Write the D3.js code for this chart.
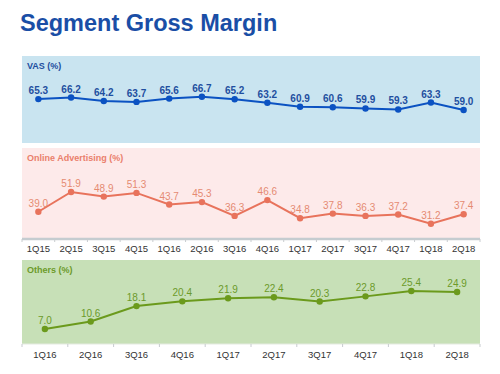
<!DOCTYPE html>
<html>
<head>
<meta charset="utf-8">
<script src="https://cdn.jsdelivr.net/npm/d3@7"></script>
<style>
  body { margin: 0; background: #fff; }
  svg { display: block; font-family: "Liberation Sans", Arial, sans-serif; }
</style>
</head>
<body>
<script>
// data
var quartersAll = ["1Q15","2Q15","3Q15","4Q15","1Q16","2Q16","3Q16","4Q16","1Q17","2Q17","3Q17","4Q17","1Q18","2Q18"];
var quartersOthers = ["1Q16","2Q16","3Q16","4Q16","1Q17","2Q17","3Q17","4Q17","1Q18","2Q18"];
var vasValues = [65.3, 66.2, 64.2, 63.7, 65.6, 66.7, 65.2, 63.2, 60.9, 60.6, 59.9, 59.3, 63.3, 59.0];
var adValues = [39.0, 51.9, 48.9, 51.3, 43.7, 45.3, 36.3, 46.6, 34.8, 37.8, 36.3, 37.2, 31.2, 37.4];
var othersValues = [7.0, 10.6, 18.1, 20.4, 21.9, 22.4, 20.3, 22.8, 25.4, 24.9];

var svg = d3.select("body").append("svg")
  .attr("width", 500)
  .attr("height", 374);

svg.append("text")
  .attr("x", 20).attr("y", 31)
  .style("font-size", "23.5px").style("font-weight", "bold")
  .style("fill", "#1a4ea6")
  .text("Segment Gross Margin");

var left = 22, right = 480;

// one panel = background, label, line, dots, value labels, optional axis
function drawPanel(opt){
  var g = svg.append("g");
  g.append("rect")
    .attr("x", left).attr("y", opt.top)
    .attr("width", right - left).attr("height", opt.bottom - opt.top)
    .style("fill", opt.bg);
  g.append("text")
    .attr("x", left + 5).attr("y", opt.top + 13)
    .style("font-size", "9px").style("font-weight", "bold")
    .style("fill", opt.titleColor)
    .text(opt.title);

  var x = d3.scalePoint().domain(opt.cats).range([left, right]).padding(0.5);
  var y = d3.scaleLinear().domain(opt.domain).range(opt.yRange);

  var pts = opt.values.map(function(v, i){ return {c: opt.cats[i], v: v}; });

  g.append("path").datum(pts)
    .attr("d", d3.line().x(function(d){ return x(d.c); }).y(function(d){ return y(d.v); }))
    .style("fill", "none").style("stroke", opt.color).style("stroke-width", 2);

  g.selectAll("circle").data(pts).enter().append("circle")
    .attr("cx", function(d){ return x(d.c); })
    .attr("cy", function(d){ return y(d.v); })
    .attr("r", 3.2)
    .style("fill", opt.color);

  g.selectAll("text.val").data(pts).enter().append("text")
    .attr("class", "val")
    .attr("x", function(d){ return x(d.c); })
    .attr("y", function(d){ return y(d.v) - 5; })
    .attr("text-anchor", "middle")
    .style("font-size", "10px")
    .style("font-weight", opt.labelWeight)
    .style("fill", opt.labelColor)
    .text(function(d){ return d.v.toFixed(1); });

  if(opt.axis){
    var band = x.step();
    var ax = svg.append("g").attr("transform", "translate(0," + opt.bottom + ")");
    ax.append("line")
      .attr("x1", left).attr("x2", right)
      .style("stroke", opt.axisColor).style("stroke-width", opt.axisWidth);
    ax.selectAll("line.tk").data(d3.range(opt.cats.length + 1)).enter().append("line")
      .attr("class", "tk")
      .attr("x1", function(i){ return left + i * band; })
      .attr("x2", function(i){ return left + i * band; })
      .attr("y1", 0).attr("y2", 3)
      .style("stroke", "#c8cccf").style("stroke-width", 1);
    ax.selectAll("text").data(opt.cats).enter().append("text")
      .attr("x", function(d){ return x(d); })
      .attr("y", opt.labelOffset)
      .attr("text-anchor", "middle")
      .style("font-size", "9.5px")
      .style("fill", "#333")
      .text(function(d){ return d; });
  }
}

drawPanel({
  top: 56, bottom: 143, bg: "#c9e4f0",
  title: "VAS (%)", titleColor: "#1f4f9f",
  cats: quartersAll, values: vasValues,
  domain: [59, 66.7], yRange: [110, 96.7],
  color: "#0b52c2", labelColor: "#1f4f9f", labelWeight: "bold",
  axis: false
});

drawPanel({
  top: 148, bottom: 239, bg: "#fdeaea",
  title: "Online Advertising (%)", titleColor: "#ea7f6c",
  cats: quartersAll, values: adValues,
  domain: [31.2, 51.9], yRange: [223.7, 192],
  color: "#e8735c", labelColor: "#e58a72", labelWeight: "normal",
  axis: true, axisColor: "#c5ccd0", axisWidth: 2.5, labelOffset: 13
});

drawPanel({
  top: 260, bottom: 344, bg: "#c7e0b7",
  title: "Others (%)", titleColor: "#6c9a2a",
  cats: quartersOthers, values: othersValues,
  domain: [7, 25.4], yRange: [329, 291],
  color: "#6b9a1c", labelColor: "#6c9a2a", labelWeight: "normal",
  axis: true, axisColor: "#e4ebe0", axisWidth: 1, labelOffset: 14
});
</script>
</body>
</html>
